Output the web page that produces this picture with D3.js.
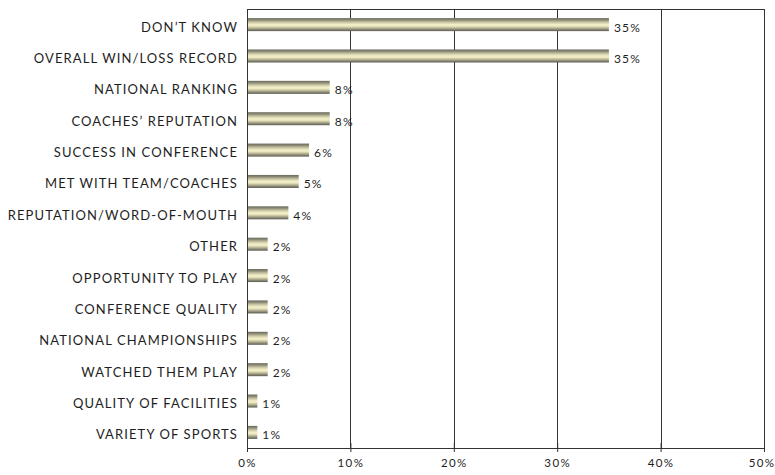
<!DOCTYPE html>
<html>
<head>
<meta charset="utf-8">
<script src="https://cdn.jsdelivr.net/npm/d3@7"></script>
<style>
  html, body { margin: 0; padding: 0; background: #fff; }
  svg { display: block; }
  text { font-family: Lato, "Open Sans", sans-serif; fill: #1e1e1e; }
</style>
</head>
<body>
<svg id="chart" width="775" height="475"></svg>
<script>
// Reasons given, top to bottom, with the share of responses for each
const categories = [
  "DON\u2019T KNOW",
  "OVERALL WIN/LOSS RECORD",
  "NATIONAL RANKING",
  "COACHES\u2019 REPUTATION",
  "SUCCESS IN CONFERENCE",
  "MET WITH TEAM/COACHES",
  "REPUTATION/WORD-OF-MOUTH",
  "OTHER",
  "OPPORTUNITY TO PLAY",
  "CONFERENCE QUALITY",
  "NATIONAL CHAMPIONSHIPS",
  "WATCHED THEM PLAY",
  "QUALITY OF FACILITIES",
  "VARIETY OF SPORTS"
];
const values = [35, 35, 8, 8, 6, 5, 4, 2, 2, 2, 2, 2, 1, 1];
const tickValues = [0, 10, 20, 30, 40, 50];

const svg = d3.select("#chart");
const margin = { top: 9, right: 11, bottom: 27, left: 247 };
const W = 775, H = 475;
const innerW = W - margin.left - margin.right;
const innerH = H - margin.top - margin.bottom;

const x = d3.scaleLinear().domain([0, 50]).range([0, innerW]);
const y = d3.scaleBand().domain(categories).range([0, innerH]).paddingInner(0.585).paddingOuter(0.29);

// Metallic cream gradient for the bars
const defs = svg.append("defs");
const grad = defs.append("linearGradient")
  .attr("id", "barGrad").attr("x1", 0).attr("y1", 0).attr("x2", 0).attr("y2", 1);
[
  [0, "#6a6a5e"], [0.15, "#8e8c76"], [0.32, "#c9c6a4"], [0.5, "#f3efc9"],
  [0.62, "#ebe7bd"], [0.8, "#a8a58b"], [1, "#5a5a4f"]
].forEach(([o, c]) => grad.append("stop").attr("offset", o).attr("stop-color", c));

const g = svg.append("g").attr("transform", `translate(${margin.left},${margin.top})`);

// Vertical gridlines
g.append("g").selectAll("line").data(tickValues.slice(1)).join("line")
  .attr("x1", d => Math.round(x(d)) + 0.5).attr("x2", d => Math.round(x(d)) + 0.5)
  .attr("y1", 0).attr("y2", innerH)
  .attr("stroke", "#333").attr("stroke-width", 1);

// Top border
g.append("line").attr("x1", 0).attr("x2", innerW + 1).attr("y1", 0.5).attr("y2", 0.5)
  .attr("stroke", "#333");

// Bottom axis
const xAxis = d3.axisBottom(x).tickValues(tickValues).tickFormat(d => d + "%").tickSize(5).tickSizeOuter(0);
const ax = g.append("g").attr("transform", `translate(0,${innerH})`).call(xAxis);
ax.select(".domain").attr("stroke", "#333");
ax.selectAll(".tick line").attr("stroke", "#333").attr("y1", -5).attr("y2", 4);
ax.selectAll(".tick text").attr("dy", "0.95em").attr("font-size", 11.5).style("letter-spacing", "1.4px")
  .style("font-family", "Lato, sans-serif").attr("fill", "#1e1e1e");
ax.selectAll(".tick").filter(d => d === 50).select("text").attr("text-anchor", "end").attr("x", 11);

// Left axis line
g.append("line").attr("x1", 0.5).attr("x2", 0.5).attr("y1", 0).attr("y2", innerH + 4)
  .attr("stroke", "#333");

// Bars
g.append("g").selectAll("rect").data(values).join("rect")
  .attr("x", 1)
  .attr("y", (d, i) => y(categories[i]))
  .attr("width", d => x(d) - 1)
  .attr("height", y.bandwidth())
  .attr("fill", "url(#barGrad)");

// Value labels
g.append("g").selectAll("text").data(values).join("text")
  .attr("x", d => x(d) + 5)
  .attr("y", (d, i) => y(categories[i]) + y.bandwidth())
  .attr("dy", "0.5")
  .attr("font-size", 12)
  .style("letter-spacing", "1.2px")
  .text(d => d + "%");

// Category labels
g.append("g").selectAll("text").data(categories).join("text")
  .attr("x", -9)
  .attr("y", d => y(d) + y.bandwidth())
  .attr("dy", "0.5")
  .attr("text-anchor", "end")
  .attr("font-size", 13)
  .style("letter-spacing", "1.1px")
  .text(d => d);
</script>
</body>
</html>
